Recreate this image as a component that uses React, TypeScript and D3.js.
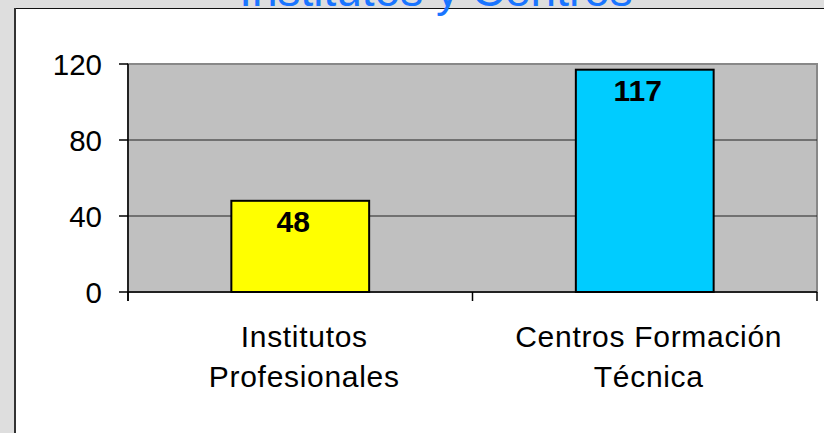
import React from "react";
import * as d3 from "d3";

const categories: string[][] = [
  ["Institutos", "Profesionales"],
  ["Centros Formación", "Técnica"],
];
const values: number[] = [48, 117];
const barColors: string[] = ["#ffff00", "#00ccff"];
const yTicks: number[] = [0, 40, 80, 120];
const title = "Institutos y Centros";

const W = 824;
const H = 433;
const plot = { left: 128, right: 817, top: 64, bottom: 292 };
const FONT = "'Liberation Sans', Arial, Helvetica, sans-serif";

export default function App() {
  const x = d3
    .scaleBand<number>()
    .domain(d3.range(values.length))
    .range([plot.left, plot.right])
    .paddingInner(0.6)
    .paddingOuter(0.3);
  const band = (plot.right - plot.left) / values.length;
  const y = d3.scaleLinear().domain([0, 120]).range([plot.bottom, plot.top]);

  return (
    <svg
      width={W}
      height={H}
      style={{ position: "absolute", left: 0, top: 0, display: "block" }}
      fontFamily={FONT}
    >
      <rect x={0} y={0} width={W} height={H} fill="#dedede" />
      <rect x={15} y={8} width={W + 20} height={H + 20} fill="#ffffff" />
      <line x1={15} x2={W} y1={8.5} y2={8.5} stroke="#111" strokeWidth={1} />
      <line x1={15} x2={15} y1={8} y2={H} stroke="#333" strokeWidth={2} />

      {/* plot area */}
      <rect
        x={plot.left}
        y={plot.top}
        width={plot.right - plot.left}
        height={plot.bottom - plot.top}
        fill="#c0c0c0"
        stroke="#888"
        strokeWidth={2}
      />
      {yTicks
        .filter((t) => t > 0 && t < 120)
        .map((t) => (
          <line
            key={"g" + t}
            x1={plot.left}
            x2={plot.right}
            y1={y(t)}
            y2={y(t)}
            stroke="#222"
            strokeWidth={1}
          />
        ))}

      {/* bars */}
      {values.map((v, i) => (
        <rect
          key={"b" + i}
          x={x(i)!}
          y={y(v)}
          width={x.bandwidth()}
          height={plot.bottom - y(v)}
          fill={barColors[i]}
          stroke="#000"
          strokeWidth={2}
        />
      ))}
      {values.map((v, i) => (
        <text
          key={"v" + i}
          x={x(i)! + x.bandwidth() / 2 - 7}
          y={y(v) + 31}
          textAnchor="middle"
          fontWeight="bold"
          fontSize={30}
          fill="#000"
        >
          {v}
        </text>
      ))}

      {/* y axis */}
      <line x1={plot.left} x2={plot.left} y1={plot.top} y2={plot.bottom + 9} stroke="#000" strokeWidth={1.5} />
      {yTicks.map((t) => (
        <g key={"t" + t}>
          <line x1={plot.left - 9} x2={plot.left} y1={y(t)} y2={y(t)} stroke="#000" strokeWidth={1.5} />
          <text x={102} y={y(t) + 10.5} textAnchor="end" fontSize={29.5} fill="#000">
            {t}
          </text>
        </g>
      ))}

      {/* x axis */}
      <line x1={plot.left} x2={plot.right} y1={plot.bottom} y2={plot.bottom} stroke="#000" strokeWidth={1.5} />
      {d3.range(values.length + 1).map((i) => (
        <line
          key={"xt" + i}
          x1={plot.left + i * band}
          x2={plot.left + i * band}
          y1={plot.bottom}
          y2={plot.bottom + 9}
          stroke="#000"
          strokeWidth={1.5}
        />
      ))}
      {categories.map((lines, i) => (
        <text
          key={"c" + i}
          x={x(i)! + x.bandwidth() / 2 + 4}
          textAnchor="middle"
          fontSize={30}
          letterSpacing={0.7}
          fill="#000"
        >
          {lines.map((l, j) => (
            <tspan key={j} x={x(i)! + x.bandwidth() / 2 + 4} y={347 + j * 39.5}>
              {l}
            </tspan>
          ))}
        </text>
      ))}

      {/* title */}
      <text x={436} y={6} textAnchor="middle" fontSize={46} fill="#1a75ff">
        {title}
      </text>
    </svg>
  );
}
